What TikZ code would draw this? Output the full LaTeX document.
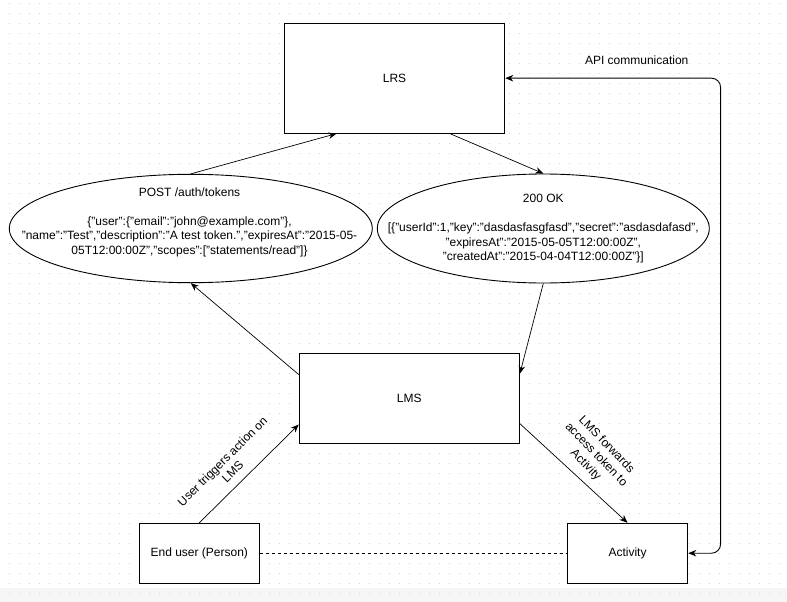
\documentclass[tikz,border=0pt]{standalone}
\usepackage{fontspec}
\setmainfont{Liberation Sans}
\usetikzlibrary{shapes.geometric,arrows.meta,calc}
\definecolor{dotc}{HTML}{D2D2D2}
\definecolor{bandc}{HTML}{F6F6F6}
\tikzset{
  box/.style={draw=black,line width=1.1pt,fill=white,rectangle,inner sep=0pt},
  oval/.style={draw=black,line width=0.9pt,fill=white,ellipse,inner sep=0pt},
  txt/.style={align=center,inner sep=0pt,font=\fontsize{12}{14.5}\selectfont},
  conn/.style={draw=black,line width=0.7pt,-{Stealth[length=8pt,width=6.5pt,inset=2.5pt]}},
}
\begin{document}
\begin{tikzpicture}[x=1pt,y=-1pt,font=\fontsize{12}{14.5}\selectfont]
\useasboundingbox (0,0) rectangle (787,602);
\fill[white] (0,0) rectangle (787,602);
\fill[bandc] (0,588) rectangle (787,602);
\foreach \i in {0,...,77}{
  \foreach \j in {0,...,59}{
    \fill[dotc] ({8.8+10*\i},{2.8+10*\j}) rectangle ++(1,1);
  }
}
% boxes
\node[box,minimum width=220.4pt,minimum height=109.7pt] (lrs) at (394.5,78.2) {LRS};
\node[box,minimum width=220pt,minimum height=89.7pt] (lms) at (409.3,398.2) {LMS};
\node[box,minimum width=120pt,minimum height=59.7pt] (user) at (199.3,553.2) {End user (Person)};
\node[box,minimum width=120.4pt,minimum height=59.7pt] (act) at (627.5,553.2) {Activity};
% ellipses
\node[oval,minimum width=363pt,minimum height=108.4pt] (post) at (190.8,228.5) {};
\node[oval,minimum width=332pt,minimum height=109pt] (ok) at (543.3,228.5) {};
\node[txt] (posttext) at (189.5,222.3) {POST /auth/tokens\\[14.5pt]
\{"user":\{"email":"john@example.com"\},\\
"name":"Test","description":"A test token.","expiresAt":"2015-05-\\
05T12:00:00Z","scopes":["statements/read"]\}};
\node[txt] (oktext) at (543.3,228.7) {200 OK\\[14.5pt]
[\{"userId":1,"key":"dasdasfasgfasd","secret":"asdasdafasd",\\
"expiresAt":"2015-05-05T12:00:00Z",\\
"createdAt":"2015-04-04T12:00:00Z"\}]};
% connectors
\draw[conn] (post.north) -- ($(lrs.south west)!0.238!(lrs.south east)$);
\draw[conn] ($(lrs.south west)!0.75!(lrs.south east)$) -- (ok.north);
\draw[conn] (ok.south) -- ($(lms.north east)!0.23!(lms.south east)$);
\draw[conn] ($(lms.north west)!0.24!(lms.south west)$) -- (post.south);
\draw[conn] (user.north) -- ($(lms.north west)!0.79!(lms.south west)$);
\draw[conn] ($(lms.north east)!0.78!(lms.south east)$) -- (act.north);
\draw[black,line width=0.8pt,dashed,dash pattern=on 3pt off 3pt] (user.east) -- (act.west);
\draw[black,line width=0.9pt,rounded corners=9pt,{Stealth[length=8pt,width=6.5pt,inset=2.5pt]}-{Stealth[length=8pt,width=6.5pt,inset=2.5pt]}]
  (lrs.east) -- ++(215.3,0) |- (act.east);
% labels
\node[txt] (apilabel) at (636.7,60.5) {API communication};
\node[txt,rotate=45] (lbl1) at (227.5,466.5) {User triggers action on\\LMS};
\node[txt,rotate=-46] (lbl2) at (596,455) {LMS forwards\\access token to\\Activity};
\end{tikzpicture}
\end{document}
